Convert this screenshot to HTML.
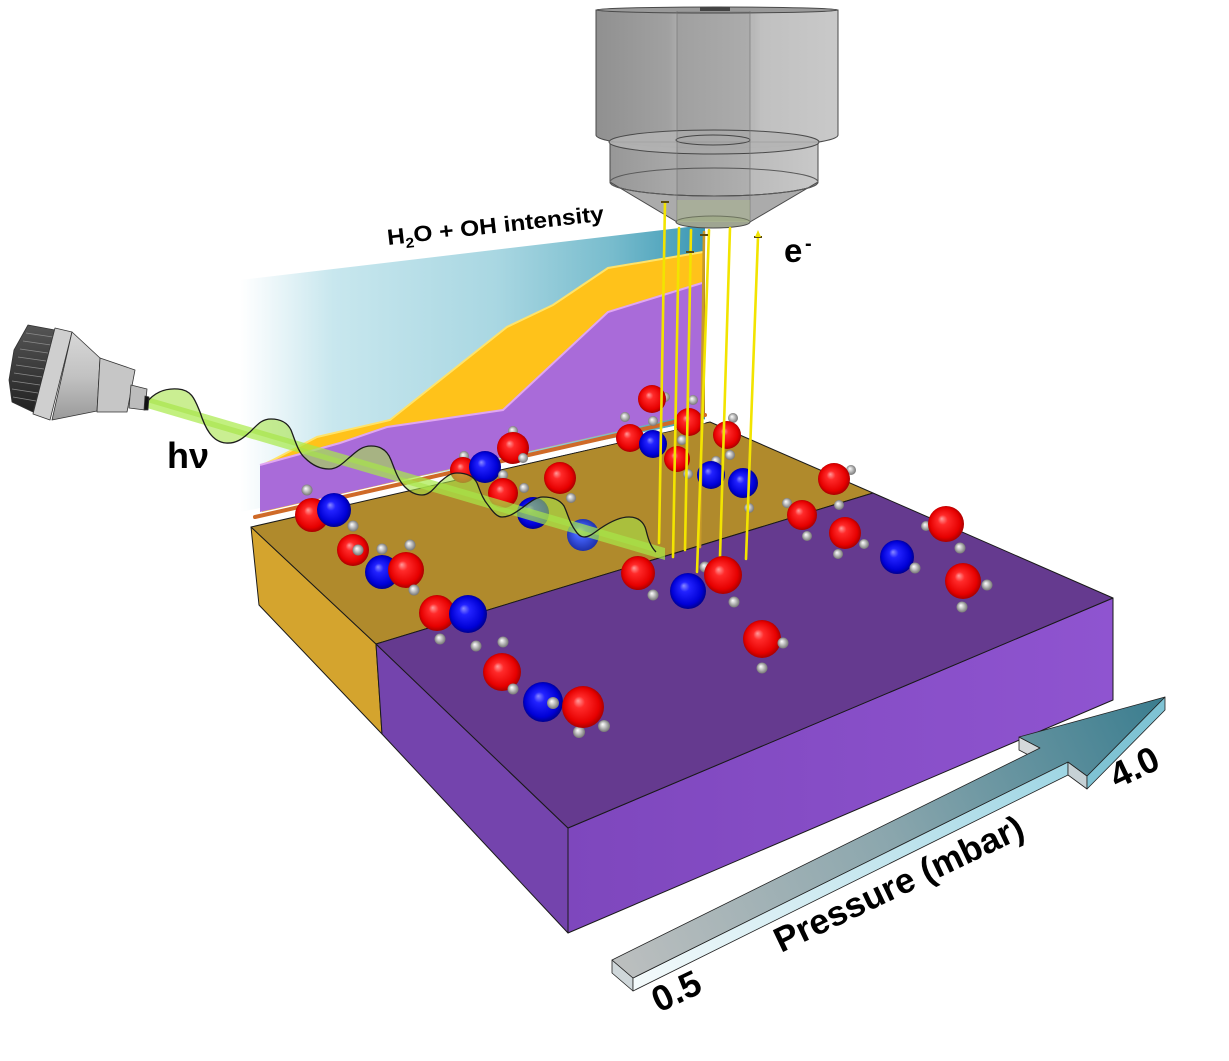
<!DOCTYPE html>
<html><head><meta charset="utf-8"><style>
html,body{margin:0;padding:0;background:#fff;}
svg{display:block;}
text{font-family:"Liberation Sans",Arial,sans-serif;font-weight:bold;fill:#000;}
</style></head><body>
<svg width="1229" height="1061" viewBox="0 0 1229 1061" xmlns="http://www.w3.org/2000/svg">
<defs>
<linearGradient id="bgBlue" x1="240" y1="0" x2="705" y2="0" gradientUnits="userSpaceOnUse">
<stop offset="0" stop-color="#ffffff"/><stop offset="0.05" stop-color="#f2f9fb"/><stop offset="0.2" stop-color="#c8e7ee"/><stop offset="0.55" stop-color="#a9d7e2"/><stop offset="0.8" stop-color="#78bccd"/><stop offset="1" stop-color="#3a97b4"/>
</linearGradient>
<linearGradient id="cyl" x1="596" y1="0" x2="839" y2="0" gradientUnits="userSpaceOnUse">
<stop offset="0" stop-color="#8a8a8a"/><stop offset="0.3" stop-color="#9c9c9c"/><stop offset="0.33" stop-color="#a6a6a6"/><stop offset="0.65" stop-color="#b4b4b4"/><stop offset="0.68" stop-color="#bdbdbd"/><stop offset="1" stop-color="#c6c6c6"/>
</linearGradient>
<linearGradient id="cyl2" x1="610" y1="0" x2="818" y2="0" gradientUnits="userSpaceOnUse">
<stop offset="0" stop-color="#8e8e8e"/><stop offset="0.35" stop-color="#a4a4a4"/><stop offset="0.7" stop-color="#b6b6b6"/><stop offset="1" stop-color="#c4c4c4"/>
</linearGradient>
<linearGradient id="arrowTop" x1="612" y1="960" x2="1165" y2="697" gradientUnits="userSpaceOnUse">
<stop offset="0" stop-color="#bcbfbf"/><stop offset="0.5" stop-color="#8aa6ad"/><stop offset="1" stop-color="#3a7d8f"/>
</linearGradient>
<linearGradient id="arrowSide" x1="633" y1="985" x2="1068" y2="768" gradientUnits="userSpaceOnUse">
<stop offset="0" stop-color="#f4fafb"/><stop offset="1" stop-color="#9fd6e4"/>
</linearGradient>
<linearGradient id="purpFront" x1="568" y1="0" x2="1113" y2="0" gradientUnits="userSpaceOnUse">
<stop offset="0" stop-color="#7e47bd"/><stop offset="1" stop-color="#8f54d0"/>
</linearGradient>
<linearGradient id="silver" x1="0" y1="0" x2="0" y2="1">
<stop offset="0" stop-color="#d8d8d8"/><stop offset="0.5" stop-color="#c2c2c2"/><stop offset="1" stop-color="#9a9a9a"/>
</linearGradient>
<linearGradient id="knurl" x1="0" y1="0" x2="0" y2="1">
<stop offset="0" stop-color="#555"/><stop offset="1" stop-color="#222"/>
</linearGradient>
<radialGradient id="gR" cx="0.5" cy="0.5" r="0.55" fx="0.38" fy="0.35">
<stop offset="0" stop-color="#ff9c9c"/><stop offset="0.25" stop-color="#ff2a2a"/><stop offset="0.75" stop-color="#e60000"/><stop offset="1" stop-color="#900000"/>
</radialGradient>
<radialGradient id="gB" cx="0.5" cy="0.5" r="0.55" fx="0.38" fy="0.35">
<stop offset="0" stop-color="#8a8aff"/><stop offset="0.25" stop-color="#2222ff"/><stop offset="0.75" stop-color="#0000d6"/><stop offset="1" stop-color="#000070"/>
</radialGradient>
<radialGradient id="gLB" cx="0.5" cy="0.5" r="0.55" fx="0.38" fy="0.35">
<stop offset="0" stop-color="#9fb0ff"/><stop offset="0.3" stop-color="#4565ff"/><stop offset="1" stop-color="#1a2aa0"/>
</radialGradient>
<radialGradient id="gH" cx="0.5" cy="0.5" r="0.55" fx="0.38" fy="0.35">
<stop offset="0" stop-color="#ffffff"/><stop offset="0.35" stop-color="#cfcfcf"/><stop offset="1" stop-color="#6a6a6a"/>
</radialGradient>
</defs>

<!-- background blue intensity panel -->
<polygon points="240,280 705,225 705,420 240,512" fill="url(#bgBlue)"/>
<!-- yellow chart -->
<polygon points="262,465 273,460 317,437 390,420 507,327 553,305 608,268 703,252 703,412 262,512" fill="#ffc21a"/>
<polyline points="262,465 273,460 317,437 390,420 507,327 553,305 608,268 703,252" fill="none" stroke="#ffe36a" stroke-width="2"/>
<!-- purple chart -->
<polygon points="260,465 340,443 387,427 503,410 608,312 702,283 703,412 260,512" fill="#a96bd9"/>
<polyline points="260,465 340,443 387,427 503,410 608,312 702,283" fill="none" stroke="#e0a6f2" stroke-width="2"/>
<line x1="704" y1="250" x2="704" y2="414" stroke="#b07a2a" stroke-width="2"/>

<!-- detector -->
<g stroke="#4a4a4a" stroke-width="1">
<path d="M596,10 L596,135 A121,13 0 0 0 838,135 L838,10 Z" fill="url(#cyl)" fill-opacity="0.95"/>
<ellipse cx="717" cy="10" rx="121" ry="3" fill="#9a9a9a"/>
<rect x="700" y="7" width="30" height="4" fill="#444" stroke="none"/>
<path d="M610,142 L610,182 A104,14 0 0 0 818,182 L818,142 Z" fill="url(#cyl2)" fill-opacity="0.92"/>
<ellipse cx="714" cy="142" rx="105" ry="12" fill="#b4b4b4" fill-opacity="0.85"/>
<ellipse cx="713" cy="140" rx="37" ry="5" fill="none"/>
<path d="M610,182 A104,14 0 0 0 818,182 L750,222 A37,7 0 0 1 677,222 Z" fill="#a4a4a4" fill-opacity="0.92"/>
<ellipse cx="714" cy="182" rx="104" ry="14" fill="none" stroke="#5a5a5a"/>
<ellipse cx="713" cy="222" rx="37" ry="6" fill="#9fa592"/>
</g>
<rect x="677" y="11" width="73" height="210" fill="#000" fill-opacity="0.06"/>
<line x1="677" y1="11" x2="677" y2="222" stroke="#707070" stroke-width="1" stroke-opacity="0.6"/>
<line x1="750" y1="11" x2="750" y2="222" stroke="#707070" stroke-width="1" stroke-opacity="0.6"/>
<polygon points="677,200 750,200 750,222 677,222" fill="#b8c890" fill-opacity="0.35"/>

<!-- slab -->
<g stroke="#1a1a1a" stroke-width="1" stroke-linejoin="round">
<polygon points="251,527 376,644 382,734 259,605" fill="#d4a42e"/>
<polygon points="251,527 710,422 873,493 376,644" fill="#b08a2c"/>
<polygon points="376,644 568,828 568,933 382,734" fill="#7444ad"/>
<polygon points="568,828 1113,598 1113,700 568,933" fill="url(#purpFront)"/>
<polygon points="376,644 873,493 1113,598 568,828" fill="#653a8f"/>
</g>
<!-- strip -->
<line x1="257" y1="522" x2="705" y2="421" stroke="#ffffff" stroke-width="4"/>
<line x1="255" y1="517" x2="705" y2="415" stroke="#cf6a28" stroke-width="4" stroke-linecap="round"/>

<!-- back molecules -->
<g>
<circle cx="307" cy="490" r="5.5" fill="url(#gH)"/>
<circle cx="312" cy="515" r="17" fill="url(#gR)"/>
<circle cx="334" cy="510" r="17" fill="url(#gB)"/>
<circle cx="353" cy="526" r="5.5" fill="url(#gH)"/>
<circle cx="353" cy="550" r="16" fill="url(#gR)"/>
<circle cx="358" cy="550" r="5.5" fill="url(#gH)"/>
<circle cx="382" cy="549" r="5.5" fill="url(#gH)"/>
<circle cx="410" cy="545" r="5.5" fill="url(#gH)"/>
<circle cx="382" cy="572" r="17" fill="url(#gB)"/>
<circle cx="406" cy="570" r="18" fill="url(#gR)"/>
<circle cx="414" cy="590" r="5.5" fill="url(#gH)"/>
<circle cx="440" cy="639" r="5.5" fill="url(#gH)"/>
<circle cx="476" cy="646" r="5.5" fill="url(#gH)"/>
<circle cx="437" cy="613" r="18" fill="url(#gR)"/>
<circle cx="468" cy="614" r="19" fill="url(#gB)"/>
<circle cx="503" cy="642" r="5.5" fill="url(#gH)"/>
<circle cx="502" cy="672" r="19" fill="url(#gR)"/>
<circle cx="513" cy="689" r="5.5" fill="url(#gH)"/>
<circle cx="543" cy="702" r="20" fill="url(#gB)"/>
<circle cx="553" cy="703" r="6" fill="url(#gH)"/>
<circle cx="579" cy="732" r="6" fill="url(#gH)"/>
<circle cx="583" cy="707" r="21" fill="url(#gR)"/>
<circle cx="604" cy="726" r="6" fill="url(#gH)"/>

<circle cx="464" cy="456" r="5" fill="url(#gH)"/>
<circle cx="463" cy="470" r="13" fill="url(#gR)"/>
<circle cx="485" cy="467" r="16" fill="url(#gB)"/>
<circle cx="513" cy="431" r="5" fill="url(#gH)"/>
<circle cx="513" cy="448" r="16" fill="url(#gR)"/>
<circle cx="523" cy="458" r="5" fill="url(#gH)"/>
<circle cx="503" cy="475" r="5" fill="url(#gH)"/>
<circle cx="503" cy="493" r="15" fill="url(#gR)"/>
<circle cx="524" cy="488" r="5" fill="url(#gH)"/>
<circle cx="533" cy="513" r="16" fill="url(#gB)"/>
<circle cx="560" cy="478" r="16" fill="url(#gR)"/>
<circle cx="571" cy="498" r="5" fill="url(#gH)"/>
<circle cx="583" cy="535" r="16" fill="url(#gLB)"/>

<circle cx="665" cy="397" r="5" fill="url(#gH)"/>
<circle cx="652" cy="399" r="14" fill="url(#gR)"/>
<circle cx="653" cy="421" r="5" fill="url(#gH)"/>
<circle cx="625" cy="417" r="5" fill="url(#gH)"/>
<circle cx="630" cy="438" r="14" fill="url(#gR)"/>
<circle cx="653" cy="444" r="14" fill="url(#gB)"/>
<circle cx="693" cy="400" r="5" fill="url(#gH)"/>
<circle cx="689" cy="422" r="14" fill="url(#gR)"/>
<circle cx="733" cy="418" r="5" fill="url(#gH)"/>
<circle cx="727" cy="435" r="14" fill="url(#gR)"/>
<circle cx="730" cy="455" r="5" fill="url(#gH)"/>
<circle cx="682" cy="440" r="5" fill="url(#gH)"/>
<circle cx="677" cy="459" r="13" fill="url(#gR)"/>
<circle cx="688" cy="474" r="5" fill="url(#gH)"/>
<circle cx="716" cy="461" r="5" fill="url(#gH)"/>
<circle cx="711" cy="475" r="14" fill="url(#gB)"/>
<circle cx="743" cy="483" r="15" fill="url(#gB)"/>
<circle cx="749" cy="508" r="5" fill="url(#gH)"/>
<circle cx="851" cy="470" r="5" fill="url(#gH)"/>
<circle cx="834" cy="479" r="16" fill="url(#gR)"/>
<circle cx="839" cy="505" r="5" fill="url(#gH)"/>
<circle cx="787" cy="503" r="5" fill="url(#gH)"/>
<circle cx="802" cy="515" r="15" fill="url(#gR)"/>
<circle cx="807" cy="536" r="5" fill="url(#gH)"/>
<circle cx="838" cy="554" r="5" fill="url(#gH)"/>
<circle cx="845" cy="533" r="16" fill="url(#gR)"/>
<circle cx="864" cy="544" r="5" fill="url(#gH)"/>
<circle cx="926" cy="526" r="5" fill="url(#gH)"/>
<circle cx="946" cy="524" r="18" fill="url(#gR)"/>
<circle cx="960" cy="548" r="5.5" fill="url(#gH)"/>
</g>

<!-- electron beams -->
<g stroke-width="2.6" stroke-linecap="round">
<line x1="665" y1="202" x2="659" y2="543" stroke="#f2e400"/>
<line x1="679" y1="228" x2="673" y2="557" stroke="#f2e400"/>
<line x1="691" y1="230" x2="685" y2="550" stroke="#f2e400"/>
<line x1="704" y1="232" x2="700" y2="547" stroke="#c89a28"/>
<line x1="709" y1="230" x2="697" y2="572" stroke="#f2e400"/>
<line x1="730" y1="228" x2="720" y2="557" stroke="#f2e400"/>
<line x1="758" y1="237" x2="746" y2="559" stroke="#f2e400"/>
</g>
<g stroke="#5a4a10" stroke-width="2">
<line x1="661" y1="202" x2="669" y2="202"/>
<line x1="754" y1="237" x2="762" y2="237"/>
<line x1="686" y1="252" x2="694" y2="252"/>
<line x1="700" y1="235" x2="708" y2="235"/>
</g>
<polygon points="758,230 755,237 761,237" fill="#f2e400"/>

<!-- light beam and wave -->
<polygon points="147,397 665,548 665,560 147,408" fill="#a8ea48" fill-opacity="0.7"/>
<path d="M147,402 C155,392 165,388 178,389 C192,390 195,400 200,412 C205,428 212,442 226,443 C238,444 245,436 250,432 C258,424 262,419 271,419 C282,419 288,424 291,430 C295,440 298,452 305,458 C312,465 320,469 329,469 C338,469 344,462 350,457 C357,451 362,446 371,446 C382,446 388,452 391,460 C395,470 398,480 405,487 C410,492 416,495 422,495 C430,495 435,487 440,482 C446,477 450,473 457,473 C468,473 474,477 477,483 C480,490 482,498 488,505 C493,512 497,517 502,517 C510,517 516,512 522,508 C530,502 536,497 543,497 C553,497 560,500 564,506 C568,514 569,522 575,530 C578,535 581,537 584,537 C590,537 595,532 601,528 C610,522 620,517 629,517 C638,517 644,522 646,530 C648,538 650,546 656,552 L665,555 L147,402 Z" fill="#a6e34a" fill-opacity="0.6"/>
<path d="M147,402 C155,392 165,388 178,389 C192,390 195,400 200,412 C205,428 212,442 226,443 C238,444 245,436 250,432 C258,424 262,419 271,419 C282,419 288,424 291,430 C295,440 298,452 305,458 C312,465 320,469 329,469 C338,469 344,462 350,457 C357,451 362,446 371,446 C382,446 388,452 391,460 C395,470 398,480 405,487 C410,492 416,495 422,495 C430,495 435,487 440,482 C446,477 450,473 457,473 C468,473 474,477 477,483 C480,490 482,498 488,505 C493,512 497,517 502,517 C510,517 516,512 522,508 C530,502 536,497 543,497 C553,497 560,500 564,506 C568,514 569,522 575,530 C578,535 581,537 584,537 C590,537 595,532 601,528 C610,522 620,517 629,517 C638,517 644,522 646,530 C648,538 650,546 656,552" fill="none" stroke="#1c1c1c" stroke-width="1.3"/>

<!-- front molecules -->
<g>
<circle cx="638" cy="573" r="17" fill="url(#gR)"/>
<circle cx="653" cy="595" r="5.5" fill="url(#gH)"/>
<circle cx="705" cy="567" r="5.5" fill="url(#gH)"/>
<circle cx="688" cy="591" r="18" fill="url(#gB)"/>
<circle cx="723" cy="575" r="19" fill="url(#gR)"/>
<circle cx="734" cy="602" r="5.5" fill="url(#gH)"/>
<circle cx="897" cy="557" r="17" fill="url(#gB)"/>
<circle cx="915" cy="568" r="5.5" fill="url(#gH)"/>
<circle cx="963" cy="581" r="18" fill="url(#gR)"/>
<circle cx="987" cy="585" r="5.5" fill="url(#gH)"/>
<circle cx="962" cy="607" r="5.5" fill="url(#gH)"/>
<circle cx="762" cy="639" r="19" fill="url(#gR)"/>
<circle cx="783" cy="643" r="5.5" fill="url(#gH)"/>
<circle cx="762" cy="668" r="5.5" fill="url(#gH)"/>
</g>

<!-- light source (camera) -->
<g stroke="#333" stroke-width="0.8" stroke-linejoin="round">
<polygon points="28,325 55,330 33,412 12,402 9,380 14,350" fill="url(#knurl)"/>
<g stroke="#8a8a8a" stroke-width="0.8">
<line x1="26" y1="333" x2="53" y2="337"/><line x1="23" y1="341" x2="51" y2="345"/>
<line x1="20" y1="349" x2="48" y2="353"/><line x1="18" y1="357" x2="46" y2="361"/>
<line x1="16" y1="365" x2="44" y2="369"/><line x1="14" y1="373" x2="42" y2="377"/>
<line x1="12" y1="381" x2="40" y2="385"/><line x1="12" y1="389" x2="38" y2="393"/>
<line x1="13" y1="397" x2="36" y2="401"/>
</g>
<polygon points="55,328 72,332 50,420 33,414" fill="#cfcfcf"/>
<polygon points="72,332 100,358 97,411 52,420" fill="url(#silver)"/>
<polygon points="100,358 135,370 127,412 97,412" fill="#c6c6c6"/>
<polygon points="131,385 147,389 145,410 129,408" fill="#bcbcbc"/>
<polygon points="145,396 149,397 148,410 144,410" fill="#111"/>
</g>

<!-- pressure arrow -->
<g stroke="#222" stroke-width="0.8" stroke-linejoin="round">
<polygon points="1019,737 1040,748 1040,761 1019,750" fill="#d4d9db"/>
<polygon points="612,960 633,978 633,991 612,973" fill="#cfd7da"/>
<polygon points="633,978 1068,762 1068,775 633,991" fill="url(#arrowSide)"/>
<polygon points="1068,762 1087,776 1087,789 1068,775" fill="#c6d1d5"/>
<polygon points="1087,776 1165,697 1165,710 1087,789" fill="#7fc3d4"/>
<polygon points="612,960 1040,748 1019,737 1165,697 1087,776 1068,762 633,978" fill="url(#arrowTop)"/>
</g>

<!-- labels -->
<text transform="translate(388,245) rotate(-6.4)" font-size="22" textLength="218" lengthAdjust="spacingAndGlyphs">H<tspan font-size="14" dy="5">2</tspan><tspan dy="-5">O + OH intensity</tspan></text>
<text x="784" y="262" font-size="33">e</text>
<text x="805" y="250" font-size="20">-</text>
<text x="167" y="468" font-size="36">hν</text>
<text transform="translate(781,953) rotate(-25.5)" font-size="35" textLength="272" lengthAdjust="spacingAndGlyphs">Pressure (mbar)</text>
<text transform="translate(659,1013) rotate(-25.5)" font-size="36">0.5</text>
<text transform="translate(1117,789) rotate(-25.5)" font-size="36">4.0</text>
</svg>
</body></html>
